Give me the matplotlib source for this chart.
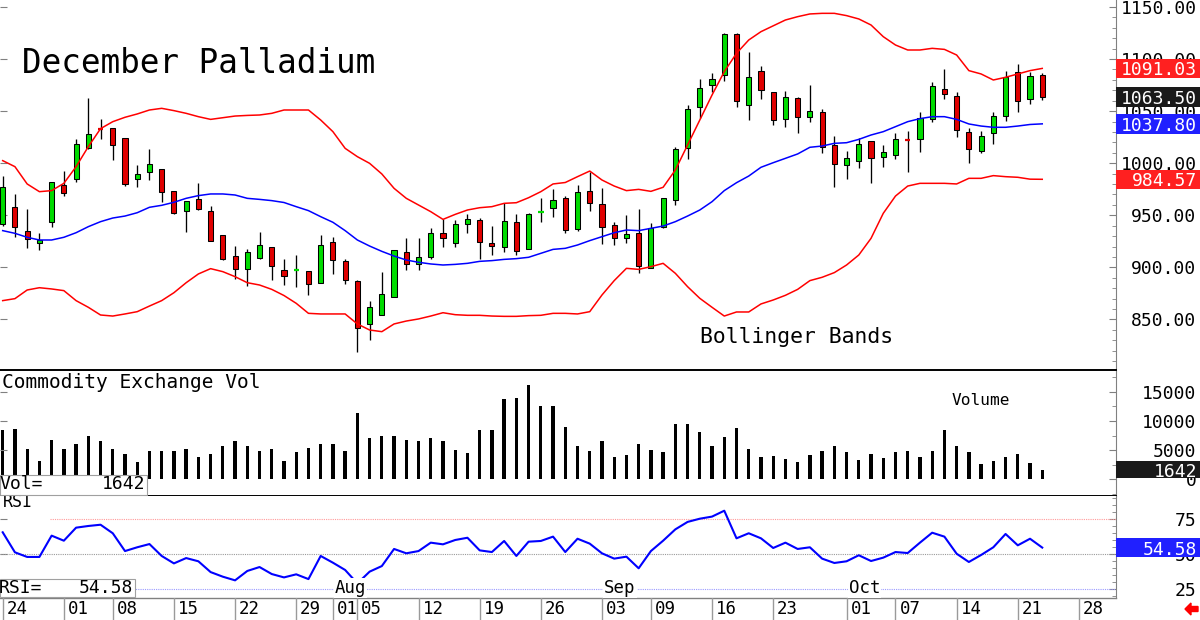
import numpy as np
import pandas as pd
import matplotlib
matplotlib.use('Agg')
import matplotlib.pyplot as plt
import matplotlib.transforms as mtransforms
from matplotlib.patches import Rectangle, FancyArrow
from matplotlib.ticker import MultipleLocator, FormatStrFormatter

plt.rcParams['font.family'] = ['DejaVu Sans Mono']

# trading days Jun 24 - Oct 28 2019 (Jul 4 and Sep 2 closed)
tradingDays = pd.bdate_range('2019-06-24', '2019-10-28')
tradingDays = tradingDays[~tradingDays.isin(pd.to_datetime(['2019-07-04', '2019-09-02']))]

opens = [941.7, 958.3, 934.9, 923.1, 943.3, 979.1, 984.5, 1014.3, 1033.2, 1033.5,
         1023.9, 984.5, 991.9, 994.1, 973.3, 954.1, 965.3, 953.8, 931.1, 910.6,
         898.1, 909.3, 919.3, 897.5, 896.9, 896.9, 885.3, 924.5, 906.1, 887.3,
         845.3, 854.3, 871.3, 914.5, 903.3, 909.7, 932.7, 923.7, 942.0, 945.2,
         923.1, 919.9, 943.3, 917.3, 952.9, 956.7, 966.3, 936.5, 973.0, 960.9,
         940.4, 928.5, 932.7, 899.5, 938.5, 964.7, 1014.3, 1053.7, 1074.8, 1084.7,
         1124.1, 1055.5, 1088.5, 1068.1, 1042.8, 1062.3, 1044.1, 1048.9, 1017.2, 998.0,
         1001.8, 1021.0, 1005.7, 1008.2, 1022.6, 1022.9, 1042.1, 1070.9, 1064.5, 1029.7,
         1012.1, 1028.7, 1045.7, 1087.3, 1061.3, 1084.7]
highs = [987.7, 970.5, 955.7, 933.3, 981.7, 992.9, 1023.5, 1062.6, 1042.5, 1033.5,
         1023.9, 998.3, 1014.0, 994.1, 973.3, 963.7, 981.3, 959.3, 931.1, 920.5,
         918.0, 934.3, 919.3, 908.5, 911.5, 896.9, 931.1, 928.9, 908.1, 888.2,
         867.7, 895.9, 916.7, 928.2, 927.9, 937.5, 946.1, 945.5, 951.3, 947.5,
         939.7, 962.1, 950.9, 952.5, 966.3, 974.9, 968.5, 979.1, 991.9, 975.9,
         943.5, 950.0, 955.7, 942.9, 966.9, 1015.9, 1055.9, 1080.5, 1086.3, 1124.7,
         1125.3, 1106.5, 1093.3, 1068.1, 1069.3, 1063.9, 1075.1, 1052.1, 1026.1, 1011.7,
         1024.2, 1021.0, 1017.2, 1028.7, 1030.9, 1049.2, 1078.0, 1090.1, 1068.5, 1034.1,
         1030.9, 1049.5, 1088.9, 1095.5, 1087.9, 1086.9]
lows = [940.0, 928.9, 918.6, 916.7, 938.5, 968.9, 982.0, 1014.0, 1022.9, 1003.1,
        978.5, 976.9, 983.5, 963.1, 950.9, 934.3, 955.1, 925.0, 907.5, 888.5,
        882.5, 908.1, 887.9, 883.1, 881.5, 873.5, 885.0, 893.7, 883.7, 818.5,
        830.3, 854.0, 871.3, 897.5, 897.5, 907.7, 919.9, 919.9, 932.7, 907.7,
        911.9, 915.1, 911.9, 917.3, 943.9, 948.7, 932.7, 935.3, 954.5, 922.5,
        921.8, 923.7, 894.3, 899.5, 937.5, 959.6, 1003.7, 1043.1, 1068.7, 1079.3,
        1054.3, 1041.5, 1061.3, 1036.7, 1035.1, 1028.7, 1039.9, 1010.1, 977.5, 985.2,
        995.5, 981.3, 996.4, 1004.1, 991.3, 1011.1, 1039.9, 1062.0, 1025.5, 999.9,
        1010.1, 1018.5, 1040.9, 1048.9, 1056.5, 1060.7]
closes = [977.5, 938.5, 927.3, 926.3, 981.7, 971.7, 1018.5, 1027.7, 1032.9, 1017.5,
          980.4, 989.7, 998.9, 972.1, 952.5, 963.7, 956.1, 925.0, 908.4, 898.8,
          914.5, 921.5, 901.7, 892.1, 897.2, 883.7, 921.2, 906.8, 887.5, 841.5,
          862.3, 874.5, 916.7, 903.3, 909.7, 932.7, 928.2, 942.0, 946.5, 924.1,
          920.5, 944.9, 916.1, 951.3, 953.2, 964.5, 935.9, 972.4, 961.5, 939.1,
          928.5, 931.7, 901.7, 937.8, 966.9, 1013.3, 1051.7, 1071.9, 1080.9, 1124.1,
          1059.5, 1083.1, 1070.0, 1041.5, 1063.3, 1044.1, 1050.1, 1015.9, 998.9, 1004.7,
          1018.5, 1005.3, 1011.1, 1023.3, 1022.3, 1043.7, 1073.8, 1066.8, 1031.5, 1013.3,
          1026.1, 1045.0, 1082.5, 1059.7, 1083.5, 1063.50]

# bollinger bands
upperBand = [1002.5, 996.7, 980.1, 972.7, 973.7, 980.7, 996.7, 1015.9, 1033.2, 1039.9,
             1044.1, 1047.3, 1051.1, 1052.7, 1050.5, 1047.9, 1044.7, 1042.1, 1043.7, 1045.3,
             1045.9, 1046.3, 1047.9, 1051.1, 1051.1, 1051.1, 1041.5, 1030.3, 1014.3, 1006.3,
             999.9, 989.7, 975.9, 966.3, 959.9, 953.5, 946.1, 950.9, 955.1, 957.3,
             958.3, 961.5, 962.1, 966.9, 972.7, 980.1, 981.5, 987.1, 992.5, 983.9,
             978.1, 973.7, 974.9, 973.0, 976.9, 993.5, 1017.5, 1041.5, 1065.5, 1087.9,
             1105.5, 1118.3, 1126.3, 1131.9, 1137.5, 1140.7, 1143.3, 1143.9, 1143.9, 1141.7,
             1138.5, 1132.7, 1121.5, 1113.5, 1108.7, 1108.7, 1110.3, 1109.3, 1103.9, 1088.9,
             1085.7, 1079.9, 1082.5, 1085.7, 1088.9, 1091.03]
midBand = [935.3, 932.7, 928.9, 926.3, 926.3, 928.9, 933.3, 939.1, 943.9, 947.4,
           949.3, 952.5, 957.7, 959.6, 962.5, 966.3, 968.9, 970.5, 970.5, 969.5,
           966.3, 965.3, 964.1, 962.3, 958.3, 954.5, 948.7, 943.3, 935.3, 926.3,
           920.5, 915.4, 910.9, 907.1, 904.9, 903.3, 902.3, 902.9, 903.9, 905.8,
           906.5, 907.7, 908.4, 909.7, 913.5, 917.3, 918.3, 921.5, 925.7, 929.5,
           933.3, 935.9, 935.3, 937.5, 939.7, 943.9, 949.3, 955.1, 963.1, 973.7,
           981.3, 987.7, 996.1, 1000.5, 1004.7, 1008.9, 1015.3, 1016.5, 1019.1, 1019.7,
           1022.9, 1027.1, 1030.3, 1035.1, 1039.9, 1042.8, 1044.7, 1044.7, 1042.1, 1037.7,
           1035.7, 1034.5, 1034.5, 1035.7, 1037.2, 1037.80]
lowerBand = [868.1, 870.0, 878.3, 880.5, 879.3, 877.7, 868.1, 861.7, 854.3, 853.3,
             855.3, 857.5, 862.9, 868.1, 875.7, 885.3, 893.7, 898.8, 895.9, 891.1,
             885.3, 883.1, 878.9, 873.0, 865.5, 855.9, 855.3, 855.3, 855.3, 845.7,
             839.9, 838.3, 845.7, 848.5, 850.5, 853.3, 856.5, 854.6, 854.0, 854.0,
             853.3, 853.0, 853.0, 853.7, 854.0, 855.9, 855.9, 855.3, 857.5, 873.5,
             887.3, 899.1, 898.1, 900.7, 903.9, 894.3, 881.5, 870.3, 861.7, 853.3,
             857.2, 857.2, 864.9, 868.7, 873.2, 878.9, 887.3, 890.5, 895.0, 902.3,
             911.9, 927.9, 951.9, 968.5, 978.1, 980.7, 980.7, 980.7, 980.1, 985.5,
             985.5, 988.1, 987.1, 986.5, 984.7, 984.57]

volumes = [8360, 8530, 5120, 3240, 6820, 5120, 6140, 7390, 6540, 5120,
           4430, 2960, 4780, 4890, 4890, 5120, 3870, 4430, 5690, 6540,
           5800, 4780, 5120, 3240, 4660, 5400, 6140, 6140, 4780, 11260,
           7110, 7390, 7390, 6710, 6600, 7110, 6600, 5070, 4440, 8360,
           8470, 13770, 13930, 16040, 12510, 12510, 8990, 5800, 4890, 6540,
           3870, 4100, 6140, 5010, 4720, 9500, 9500, 8070, 5690, 7220,
           8870, 5240, 3870, 4040, 3580, 3020, 4150, 4890, 5800, 4660,
           3410, 4270, 3640, 4660, 4780, 3920, 4890, 8360, 5800, 4660,
           2620, 3130, 3920, 4270, 2790, 1642]

rsi = [65.5, 51.2, 47.9, 47.9, 63.1, 59.5, 68.8, 70.0, 70.9, 64.8,
       52.1, 54.8, 57.1, 48.6, 43.3, 47.1, 44.8, 37.1, 33.8, 31.2,
       37.9, 40.7, 35.7, 33.3, 35.5, 32.1, 48.6, 43.8, 38.6, 29.0,
       37.4, 41.4, 53.6, 50.5, 52.1, 58.1, 56.9, 60.0, 61.6, 52.6,
       51.4, 59.3, 48.6, 58.8, 59.3, 62.4, 51.4, 60.9, 57.4, 50.5,
       46.7, 48.1, 39.8, 52.1, 59.5, 67.6, 72.9, 75.2, 76.7, 80.9,
       61.2, 64.8, 61.2, 54.3, 58.1, 53.6, 54.8, 46.7, 43.6, 44.8,
       49.1, 45.0, 47.4, 51.4, 50.7, 58.1, 65.2, 62.4, 50.2, 44.3,
       49.3, 54.8, 64.3, 56.2, 60.9, 54.58]

dateTicks = ['2019-06-24', '2019-07-01', '2019-07-08', '2019-07-15', '2019-07-22',
             '2019-07-29', '2019-08-01', '2019-08-05', '2019-08-12', '2019-08-19',
             '2019-08-26', '2019-09-03', '2019-09-09', '2019-09-16', '2019-09-23',
             '2019-10-01', '2019-10-07', '2019-10-14', '2019-10-21', '2019-10-28']
monthStarts = ['2019-08-01', '2019-09-03', '2019-10-01']

x = np.arange(len(closes))
opens, highs, lows, closes = map(np.array, (opens, highs, lows, closes))

W, H = 1200, 620
dayPx = 12.23          # pixels per trading day
xlim = (-2.7 / dayPx, (1116 - 2.7) / dayPx)
green, red, blue = '#00dc00', '#e00000', '#0000ff'
tickFont = 13

fig = plt.figure(figsize=(12, 6.2), dpi=100)
axP = fig.add_axes([0, 250 / H, 1116 / W, 370 / H])
axV = fig.add_axes([0, 124 / H, 1116 / W, 125 / H])
axR = fig.add_axes([0, 22 / H, 1116 / W, 102 / H])
axD = fig.add_axes([0, 0, 1116 / W, 22 / H])


def styleAxis(ax, major, minor, fmt, bottomColor, bottomWidth):
    ax.set_xlim(*xlim)
    ax.set_xticks([])
    for side in ('top', 'left'):
        ax.spines[side].set_visible(False)
    ax.spines['right'].set_color('#808080')
    ax.spines['bottom'].set_color(bottomColor)
    ax.spines['bottom'].set_linewidth(bottomWidth)
    ax.yaxis.set_major_locator(MultipleLocator(major))
    ax.yaxis.set_minor_locator(MultipleLocator(minor))
    ax.yaxis.set_major_formatter(FormatStrFormatter(fmt))
    ax.tick_params(axis='y', which='both', direction='in', left=True, right=True,
                   labelleft=False, labelright=True, color='#808080')
    ax.tick_params(axis='y', which='major', length=5, pad=58, labelsize=tickFont)
    ax.tick_params(axis='y', which='minor', length=3, left=False)
    plt.setp(ax.get_yticklabels(), ha='right')


# price panel
axP.set_ylim(801.5, 1156.7)
styleAxis(axP, 50, 10, '%.2f', 'black', 1.4)
axP.vlines(x, lows, highs, color='black', lw=0.95, zorder=2)
isDoji = np.abs(closes - opens) < 1
upDay = closes >= opens
bodyColors = np.where(upDay, green, red)
axP.bar(x[~isDoji], (closes - opens)[~isDoji], bottom=opens[~isDoji], width=0.42,
        color=bodyColors[~isDoji], edgecolor='black', linewidth=0.75, zorder=3)
axP.hlines(closes[isDoji], x[isDoji] - 0.22, x[isDoji] + 0.22,
           colors=bodyColors[isDoji], lw=1.6, zorder=3)
axP.plot(x, upperBand, color='#ff0000', lw=1.1, zorder=4)
axP.plot(x, lowerBand, color='#ff0000', lw=1.1, zorder=4)
axP.plot(x, midBand, color=blue, lw=1.1, zorder=4)

# volume panel
axV.set_ylim(-2815, 18510)
styleAxis(axV, 5000, 2500, '%d', 'black', 1.4)
axV.bar(x, volumes, width=0.27, color='black')

# rsi panel
axR.set_ylim(18.6, 91.4)
styleAxis(axR, 25, 5, '%d', '#808080', 1.0)
axR.axhline(75, xmin=50 / 1116, color='#ff9a9a', lw=0.8, ls=(0, (1, 1)))
axR.axhline(50, color='#9a9a9a', lw=0.8, ls=(0, (1, 1)))
axR.axhline(25, color='#9a9aff', lw=0.8, ls=(0, (1, 1)))
axR.plot(x, rsi, color=blue, lw=1.5, zorder=3)
for d in monthStarts:
    i = tradingDays.get_loc(pd.Timestamp(d))
    axR.text(i + 2 / dayPx, 22.1, pd.Timestamp(d).strftime('%b'), fontsize=12.5,
             va='baseline', ha='left', zorder=5,
             bbox=dict(fc='white', ec='none', pad=0.8))
axR.text(0, 83.3, 'RSI', fontsize=12, va='baseline', ha='left')

# date row
axD.set_xlim(*xlim)
axD.set_ylim(0, 1)
axD.axis('off')
for d in dateTicks:
    i = tradingDays.get_loc(pd.Timestamp(d))
    axD.axvline(i, color='#9a9a9a', lw=1)
    axD.text(i + 4 / dayPx, 0.25, pd.Timestamp(d).strftime('%d'), fontsize=12.5,
             va='baseline', ha='left')

# texts
fig.text(22 / W, 1 - 73 / H, 'December Palladium', fontsize=23.5, va='baseline')
fig.text(700 / W, 1 - 343 / H, 'Bollinger Bands', fontsize=15.4, va='baseline')
fig.text(2 / W, 1 - 388 / H, 'Commodity Exchange Vol', fontsize=14, va='baseline')
fig.text(952 / W, 1 - 405 / H, 'Volume', fontsize=11.6, va='baseline')


# value boxes on the right axis
def valueBox(ax, value, fmt, color, halfHeight):
    tr = mtransforms.blended_transform_factory(fig.transFigure, ax.transData)
    fig.add_artist(Rectangle((1116 / W, value - halfHeight), 84 / W, 2 * halfHeight,
                             transform=tr, fc=color, ec='none', zorder=5))
    fig.text(1197 / W, value, fmt % value, transform=tr, color='white',
             fontsize=tickFont, ha='right', va='center_baseline', zorder=6)


valueBox(axP, upperBand[-1], '%.2f', '#ff2020', 9.3)
valueBox(axP, closes[-1], '%.2f', '#1a1a1a', 9.3)
valueBox(axP, midBand[-1], '%.2f', '#2020ff', 9.3)
valueBox(axP, lowerBand[-1], '%.2f', '#ff2020', 9.3)
valueBox(axV, volumes[-1], '%d', '#1a1a1a', 1450)
valueBox(axR, rsi[-1], '%.2f', '#2020ff', 6.8)

# readout boxes on the left
fig.add_artist(Rectangle((0, 1 - 495 / H), 147 / W, 20 / H, transform=fig.transFigure,
                         fc='white', ec='#a0a0a0', lw=0.8, zorder=5))
fig.text(-1 / W, 1 - 489 / H, 'Vol=', fontsize=13, va='baseline', zorder=6)
fig.text(145 / W, 1 - 489 / H, '%d' % volumes[-1], fontsize=13, va='baseline',
         ha='right', zorder=6)
fig.add_artist(Rectangle((0, 1 - 597 / H), 135 / W, 18 / H, transform=fig.transFigure,
                         fc='white', ec='#a0a0a0', lw=0.8, zorder=5))
fig.text(-1 / W, 1 - 593 / H, 'RSI=', fontsize=13, va='baseline', zorder=6)
fig.text(133 / W, 1 - 593 / H, '%.2f' % rsi[-1], fontsize=13, va='baseline',
         ha='right', zorder=6)

# small red arrow at bottom right
fig.add_artist(FancyArrow(1198 / W, 1 - 609 / H, -13 / W, 0, width=5 / H,
                          head_width=12 / H, head_length=6 / W,
                          length_includes_head=True, transform=fig.transFigure,
                          color='#ff0000', zorder=6))

fig.savefig('out.png', dpi=100)
